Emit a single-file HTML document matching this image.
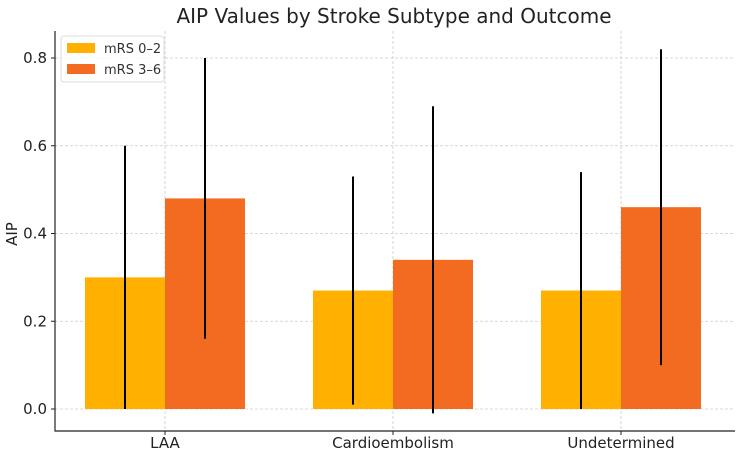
<!DOCTYPE html>
<html><head><meta charset="utf-8">
<style>
html,body{margin:0;padding:0;background:#fff;}
svg{display:block;font-family:"DejaVu Sans","Liberation Sans",sans-serif;}
</style></head>
<body>
<svg id="chart" width="737" height="453" viewBox="0 0 737 453">
<text x="394" y="23" font-size="20" text-anchor="middle" fill="#222">AIP Values by Stroke Subtype and Outcome</text>
<g id="grid"></g>
<g id="bars"></g>
<g id="errs"></g>
<g id="axes"></g>
<g>
<rect x="61" y="36" width="103" height="46" rx="3" fill="#fff" fill-opacity="0.8" stroke="#ddd"/>
<rect x="67" y="43" width="28" height="10" fill="#FFB000"/>
<text x="104" y="53" font-size="13" fill="#333">mRS 0–2</text>
<rect x="67" y="64" width="28" height="10" fill="#F26B21"/>
<text x="104" y="74" font-size="13" fill="#333">mRS 3–6</text>
</g>
</svg>
<script>
const categories=["LAA","Cardioembolism","Undetermined"];
const seriesNames=["mRS 0–2","mRS 3–6"];
const goodValues=[0.30,0.27,0.27];
const goodErr=[0.30,0.26,0.27];
const poorValues=[0.48,0.34,0.46];
const poorErr=[0.32,0.35,0.36];
const yTicks=[0.0,0.2,0.4,0.6,0.8];
const NS="http://www.w3.org/2000/svg";
const L=55,R=735,T=31,B=431;
function y(v){return 409-v*(409-58)/0.8;}
function x(i){return 165+i*228;}
const bw=80;
function mk(tag,attrs,parent){const e=document.createElementNS(NS,tag);for(const k in attrs)e.setAttribute(k,attrs[k]);document.getElementById(parent).appendChild(e);return e;}
yTicks.forEach(t=>{
 const g=mk('line',{x1:L,x2:R,y1:y(t),y2:y(t),stroke:'#ccc','stroke-dasharray':'3,2','stroke-width':0.8},'grid');
 
 
 const tk=mk('line',{x1:L-4,x2:L,y1:y(t),y2:y(t),stroke:'#222'},'axes');
 
 
 const tx=mk('text',{x:L-8,y:y(t)+5,'font-size':15,'text-anchor':'end',fill:'#222'},'axes');
 tx.textContent=t.toFixed(1);
 
 
});
categories.forEach((c,i)=>{
 const g=mk('line',{x1:x(i),x2:x(i),y1:T,y2:B,stroke:'#ccc','stroke-dasharray':'3,2','stroke-width':0.8},'grid');
 
 
 const b1=mk('rect',{x:x(i)-bw,y:y(goodValues[i]),width:bw,height:y(0)-y(goodValues[i]),fill:'#FFB000'},'bars');
 
 
 const b2=mk('rect',{x:x(i),y:y(poorValues[i]),width:bw,height:y(0)-y(poorValues[i]),fill:'#F26B21'},'bars');
 
 
 const e1=mk('line',{x1:x(i)-bw/2,x2:x(i)-bw/2,y1:y(goodValues[i]-goodErr[i]),y2:y(goodValues[i]+goodErr[i]),stroke:'#000','stroke-width':2},'errs');
 
 
 const e2=mk('line',{x1:x(i)+bw/2,x2:x(i)+bw/2,y1:y(poorValues[i]-poorErr[i]),y2:y(poorValues[i]+poorErr[i]),stroke:'#000','stroke-width':2},'errs');
 
 
 const tk=mk('line',{x1:x(i),x2:x(i),y1:B,y2:B+4,stroke:'#222'},'axes');
 
 
 const tx=mk('text',{x:x(i),y:B+17,'font-size':15,'text-anchor':'middle',fill:'#222'},'axes');
 tx.textContent=c;
 
 
});
const ax=mk('path',{d:`M${L},${T} V${B} H${R}`,fill:'none',stroke:'#222','stroke-width':1.2},'axes');


const yl=mk('text',{x:17,y:234,'font-size':15,'text-anchor':'middle',fill:'#222',transform:'rotate(-90 17 234)'},'axes');
yl.textContent='AIP';


</script>
</body></html>
